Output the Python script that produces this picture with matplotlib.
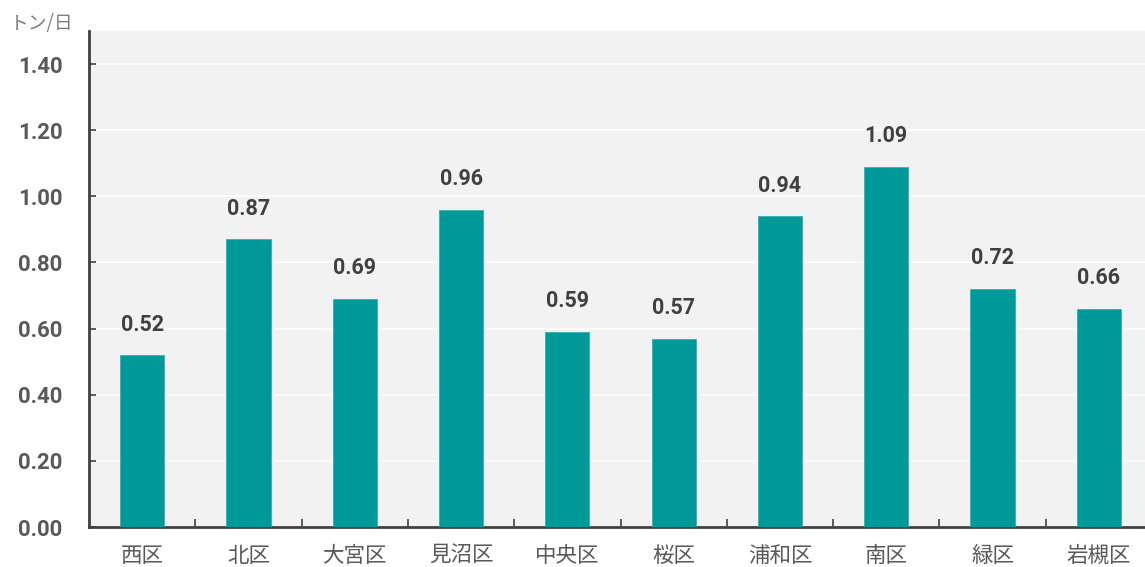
import matplotlib
matplotlib.use("Agg")
import matplotlib.pyplot as plt
import numpy as np

categories = ["西区", "北区", "大宮区", "見沼区", "中央区", "桜区", "浦和区", "南区", "緑区", "岩槻区"]
values = [0.52, 0.87, 0.69, 0.96, 0.59, 0.57, 0.94, 1.09, 0.72, 0.66]
yticks = [0.0, 0.2, 0.4, 0.6, 0.8, 1.0, 1.2, 1.4]
unit_label = "トン/日"

plt.rcParams['font.family'] = ['Roboto', 'Noto Sans CJK JP', 'DejaVu Sans']

fig = plt.figure(figsize=(11.45, 5.67), dpi=100)
ax = fig.add_axes([89/1145, 40/567, (1152-89)/1145, (527-31)/567])
ax.set_facecolor("#f2f2f2")

x = np.arange(len(categories))
bar_color = "#009999"
ax.bar(x, values, width=0.415, color=bar_color, edgecolor="#33b3b3", linewidth=0.6, zorder=3)

for xi, v in zip(x, values):
    ax.annotate(f"{v:.2f}", (xi, v), xytext=(0, 14), textcoords="offset points",
                ha="center", va="bottom", fontsize=15.5, fontweight="bold",
                color="#404040", family=['Roboto', 'DejaVu Sans'])

ax.set_ylim(0, 1.5)
ax.set_xlim(-0.5, len(categories) - 0.5)
ax.set_yticks(yticks)
ax.set_yticklabels([f"{t:.2f}" for t in yticks], fontsize=16, fontweight="bold",
                   color="#595959", family=['Roboto', 'DejaVu Sans'])
ax.yaxis.grid(True, color="white", linewidth=1.2, zorder=0)
ax.set_axisbelow(True)

ax.set_xticks(x)
ax.set_xticklabels(categories, fontsize=15.5, color="#595959",
                   family=['Noto Sans CJK JP', 'DejaVu Sans'])
ax.set_xticks(np.arange(len(categories) - 1) + 0.5, minor=True)
ax.tick_params(axis="x", which="major", length=0, pad=13)
ax.tick_params(axis="x", which="minor", direction="in", length=6, width=1.2, color="#404040")
ax.tick_params(axis="y", direction="in", length=5, width=1.2, color="#404040", pad=19)

for s in ["top", "right"]:
    ax.spines[s].set_visible(False)
for s in ["left", "bottom"]:
    ax.spines[s].set_color("#404040")
    ax.spines[s].set_linewidth(2)

fig.text(10/1145, 1 - 23/567, unit_label, fontsize=13.5, color="#7f7f7f",
         va="center", ha="left", family=['Noto Sans CJK JP', 'DejaVu Sans'])

fig.savefig("out.png", dpi=100)
